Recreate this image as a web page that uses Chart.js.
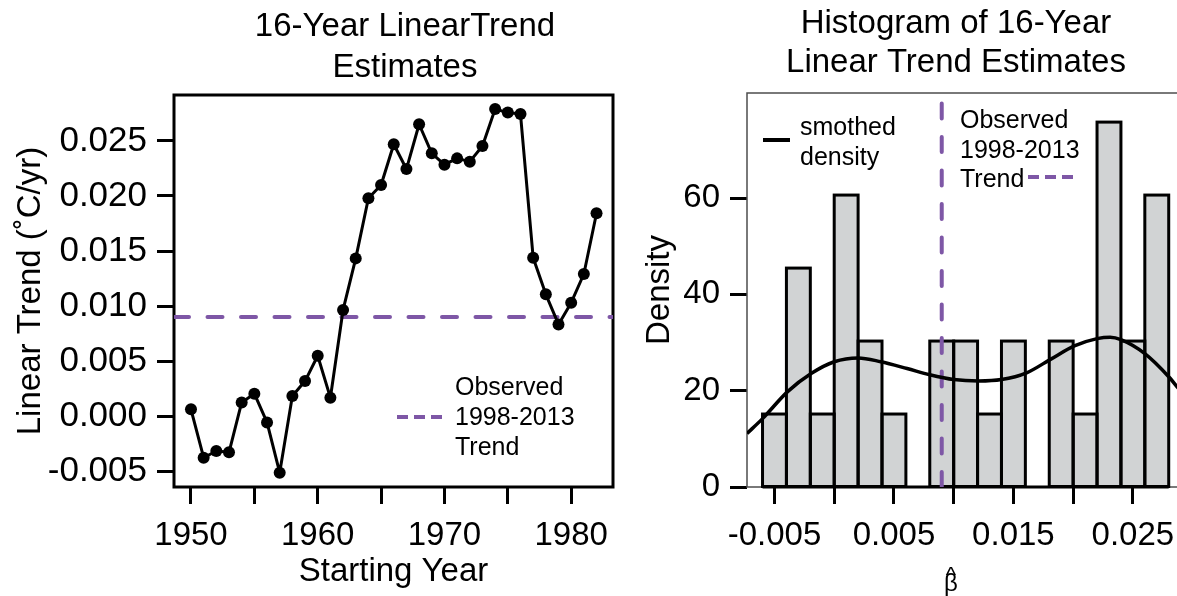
<!DOCTYPE html>
<html>
<head>
<meta charset="utf-8">
<script src="https://cdn.jsdelivr.net/npm/chart.js@4.4.1/dist/chart.umd.min.js"></script>
<style>
  html, body { margin: 0; padding: 0; background: #fff; overflow: hidden; width: 1177px; height: 596px; }
  #trend { position: absolute; left: 0; top: 0; }
  #hist { position: absolute; left: 640px; top: 0; }
</style>
</head>
<body>
<canvas id="trend" width="640" height="596"></canvas>
<canvas id="hist" width="560" height="596"></canvas>
<script>
const FONT = "'Liberation Sans', Arial, Helvetica, sans-serif";
const PURPLE = '#7e57a6';
const BAR_GRAY = '#d1d3d4';

// 16-year linear trend estimates (degC/yr) by starting year
const START_YEARS = [1950, 1951, 1952, 1953, 1954, 1955, 1956, 1957, 1958, 1959,
  1960, 1961, 1962, 1963, 1964, 1965, 1966, 1967, 1968, 1969, 1970, 1971, 1972,
  1973, 1974, 1975, 1976, 1977, 1978, 1979, 1980, 1981, 1982];
const TREND = [0.00061, -0.00379, -0.00318, -0.00330, 0.00124, 0.00203, -0.00058,
  -0.00515, 0.00182, 0.00318, 0.00548, 0.00167, 0.00964, 0.01433, 0.01979, 0.02100,
  0.02470, 0.02245, 0.02652, 0.02388, 0.02285, 0.02342, 0.02312, 0.02455, 0.02791,
  0.02758, 0.02745, 0.01439, 0.01106, 0.00833, 0.01030, 0.01291, 0.01843];
const OBSERVED_TREND = 0.009;

// histogram of the same estimates (bin width 0.002)
const BIN_MIDS = [-0.005, -0.003, -0.001, 0.001, 0.003, 0.005, 0.007, 0.009, 0.011,
  0.013, 0.015, 0.017, 0.019, 0.021, 0.023, 0.025, 0.027];
const BIN_WIDTH = 0.002;
const DENSITY = [15.15, 45.45, 15.15, 60.61, 30.30, 15.15, 0, 30.30, 30.30, 15.15,
  30.30, 0, 30.30, 15.15, 75.76, 30.30, 60.61];

// smoothed density curve
const SMOOTH_X = [-0.0073, -0.0060, -0.0039, -0.0019, 0.0000, 0.0020, 0.0039, 0.0061,
  0.0080, 0.0100, 0.0121, 0.0140, 0.0161, 0.0181, 0.0201, 0.0220, 0.0231, 0.0240,
  0.0260, 0.0280, 0.0288];
const SMOOTH_Y = [11.1, 14.2, 19.8, 23.6, 26.0, 26.8, 26.0, 24.6, 23.3, 22.3, 22.0,
  22.3, 23.7, 26.5, 29.3, 30.8, 31.1, 30.6, 27.7, 22.9, 20.5];

// axis ranges and ticks
const YEAR_MIN = 1948.66, YEAR_MAX = 1983.3;
const TREND_MIN = -0.00645, TREND_MAX = 0.02918;
const BETA_MIN = -0.0073, BETA_MAX = 0.0302;
const DENS_MAX = 81.8;

const YEAR_TICKS = [1950, 1955, 1960, 1965, 1970, 1975, 1980];
const YEAR_LABELS = ['1950', '', '1960', '', '1970', '', '1980'];
const TREND_TICKS = [-0.005, 0, 0.005, 0.010, 0.015, 0.020, 0.025];
const TREND_LABELS = ['-0.005', '0.000', '0.005', '0.010', '0.015', '0.020', '0.025'];
const BETA_TICKS = [-0.005, 0, 0.005, 0.010, 0.015, 0.020, 0.025];
const BETA_LABELS = ['-0.005', '', '0.005', '', '0.015', '', '0.025'];
const DENS_TICKS = [0, 20, 40, 60];
const DENS_LABELS = ['0', '20', '40', '60'];

Chart.defaults.font.family = FONT;
Chart.defaults.color = '#000';

function tickAxis(values, labels, min, max, pad, size, extra) {
  return {
    type: 'linear',
    min, max,
    offset: false,
    afterBuildTicks: (s) => { s.ticks = values.map((v) => ({ value: v })); },
    ticks: {
      autoSkip: false, maxRotation: 0, minRotation: 0,
      color: '#000', font: { family: FONT, size }, padding: pad,
      callback: (v, i) => labels[i],
    },
    grid: {
      display: true, drawOnChartArea: false, drawTicks: true, offset: false,
      tickLength: 17, tickWidth: 3, color: '#000', tickColor: '#000',
    },
    border: { display: false },
    ...extra,
  };
}

// box around the plotting region
const framePlugin = {
  id: 'frame',
  beforeDatasetsDraw(chart, args, opts) {
    const { ctx, chartArea: a } = chart;
    ctx.save();
    ctx.strokeStyle = opts.color;
    ctx.lineWidth = opts.width;
    ctx.strokeRect(a.left, a.top, a.right - a.left, a.bottom - a.top);
    ctx.restore();
  },
};

// histogram outlines: strokes centred on the bar edges, plus the base line
// under every bin (empty ones included); drawn right after the bar dataset
const histOutline = {
  id: 'histOutline',
  afterDatasetDraw(chart, args) {
    if (chart.data.datasets[args.index].type !== 'bar') return;
    const { ctx, scales: { x, y } } = chart;
    ctx.save();
    ctx.strokeStyle = '#000';
    ctx.lineWidth = 3;
    ctx.lineJoin = 'miter';
    args.meta.data.forEach((bar) => {
      const p = bar.getProps(['x', 'y', 'base', 'width'], true);
      if (p.base - p.y < 0.5) return;
      ctx.strokeRect(p.x - p.width / 2, p.y, p.width, p.base - p.y);
    });
    const x0 = x.getPixelForValue(BIN_MIDS[0] - BIN_WIDTH / 2);
    const x1 = x.getPixelForValue(BIN_MIDS[BIN_MIDS.length - 1] + BIN_WIDTH / 2);
    const y0 = y.getPixelForValue(0);
    ctx.beginPath();
    ctx.moveTo(x0, y0);
    ctx.lineTo(x1, y0);
    ctx.stroke();
    ctx.restore();
  },
};

// titles, legends and free labels, placed from the chart area corner
const annotatePlugin = {
  id: 'annotate',
  afterDatasetsDraw(chart, args, opts) {
    const { ctx, chartArea: a } = chart;
    ctx.save();
    for (const s of opts.strokes || []) {
      ctx.beginPath();
      ctx.strokeStyle = s.color;
      ctx.lineWidth = s.width;
      ctx.setLineDash(s.dash || []);
      ctx.moveTo(a.left + s.x1, a.top + s.y);
      ctx.lineTo(a.left + s.x2, a.top + s.y);
      ctx.stroke();
    }
    ctx.setLineDash([]);
    ctx.fillStyle = '#000';
    ctx.textBaseline = 'alphabetic';
    for (const t of opts.texts || []) {
      ctx.font = `${t.size}px ${FONT}`;
      ctx.textAlign = t.align || 'left';
      t.lines.forEach((line, i) => ctx.fillText(line, a.left + t.x, a.top + t.y + i * (t.lh || 0)));
    }
    ctx.restore();
  },
};

new Chart(document.getElementById('trend'), {
  type: 'line',
  data: {
    datasets: [
      {
        data: START_YEARS.map((x, i) => ({ x, y: TREND[i] })),
        borderColor: '#000',
        borderWidth: 3,
        borderJoinStyle: 'round',
        pointRadius: 6,
        pointBorderWidth: 0,
        pointBackgroundColor: '#000',
        tension: 0,
      },
      {
        data: [{ x: YEAR_MIN, y: OBSERVED_TREND }, { x: YEAR_MAX, y: OBSERVED_TREND }],
        borderColor: PURPLE,
        borderWidth: 4,
        borderDash: [15, 18.5],
        borderCapStyle: 'round',
        pointRadius: 0,
      },
    ],
  },
  options: {
    responsive: false,
    animation: false,
    events: [],
    layout: { padding: { top: 95, right: 27, bottom: 0, left: 0 } },
    plugins: {
      legend: { display: false },
      tooltip: { enabled: false },
      frame: { color: '#000', width: 3 },
      annotate: {
        strokes: [{ x1: 223, x2: 268, y: 322, color: PURPLE, width: 4, dash: [11, 6] }],
        texts: [
          { lines: ['16-Year LinearTrend', 'Estimates'], x: 231, y: -59, lh: 41, size: 33, align: 'center' },
          { lines: ['Observed', '1998-2013', 'Trend'], x: 281, y: 300, lh: 30, size: 25 },
        ],
      },
    },
    scales: {
      x: tickAxis(YEAR_TICKS, YEAR_LABELS, YEAR_MIN, YEAR_MAX, 12, 33, {
        afterFit: (s) => { s.height = 109; },
        title: { display: true, text: 'Starting Year', color: '#000', font: { family: FONT, size: 33 }, padding: { top: 0, bottom: 4 } },
      }),
      y: tickAxis(TREND_TICKS, TREND_LABELS, TREND_MIN, TREND_MAX, 10, 35, {
        afterFit: (s) => { s.width = 174; },
        title: { display: true, text: 'Linear Trend (˚C/yr)', color: '#000', font: { family: FONT, size: 33 }, padding: { top: 11, bottom: 0 } },
      }),
    },
  },
  plugins: [framePlugin, annotatePlugin],
});

new Chart(document.getElementById('hist'), {
  type: 'bar',
  data: {
    datasets: [
      {
        type: 'line',
        data: SMOOTH_X.map((x, i) => ({ x, y: SMOOTH_Y[i] })),
        borderColor: '#000',
        borderWidth: 3.5,
        cubicInterpolationMode: 'monotone',
        pointRadius: 0,
      },
      {
        type: 'line',
        data: [{ x: OBSERVED_TREND, y: 0 }, { x: OBSERVED_TREND, y: DENS_MAX }],
        borderColor: PURPLE,
        borderWidth: 4,
        borderDash: [15, 18.5],
        borderCapStyle: 'round',
        pointRadius: 0,
      },
      {
        type: 'bar',
        data: BIN_MIDS.map((x, i) => ({ x, y: DENSITY[i] })),
        backgroundColor: BAR_GRAY,
        borderWidth: 0,
        inflateAmount: 0,
        barPercentage: 1,
        categoryPercentage: 1,
      },
    ],
  },
  options: {
    responsive: false,
    animation: false,
    events: [],
    layout: { padding: { top: 93, right: 5, bottom: 0, left: 0 } },
    plugins: {
      legend: { display: false },
      tooltip: { enabled: false },
      frame: { color: '#4d4d4d', width: 1.5 },
      annotate: {
        strokes: [
          { x1: 16, x2: 43, y: 47, color: '#000', width: 4 },
          { x1: 281, x2: 326, y: 84, color: PURPLE, width: 4, dash: [11, 6] },
        ],
        texts: [
          { lines: ['Histogram of 16-Year', 'Linear Trend Estimates'], x: 209, y: -60, lh: 39, size: 33, align: 'center' },
          { lines: ['smothed', 'density'], x: 53, y: 42, lh: 30, size: 25 },
          { lines: ['Observed', '1998-2013', 'Trend'], x: 213, y: 35, lh: 29.5, size: 25 },
          // beta with a hat set above it
          { lines: ['\u03B2'], x: 204, y: 498, size: 24, align: 'center' },
          { lines: ['^'], x: 204, y: 489, size: 22, align: 'center' },
        ],
      },
    },
    scales: {
      x: tickAxis(BETA_TICKS, BETA_LABELS, BETA_MIN, BETA_MAX, 12, 33, {
        afterFit: (s) => { s.height = 109; },
      }),
      y: tickAxis(DENS_TICKS, DENS_LABELS, 0, DENS_MAX, 10, 33, {
        afterFit: (s) => { s.width = 107; },
        title: { display: true, text: 'Density', color: '#000', font: { family: FONT, size: 33 }, padding: { top: 0, bottom: 0 } },
      }),
    },
  },
  plugins: [framePlugin, histOutline, annotatePlugin],
});
</script>
</body>
</html>
